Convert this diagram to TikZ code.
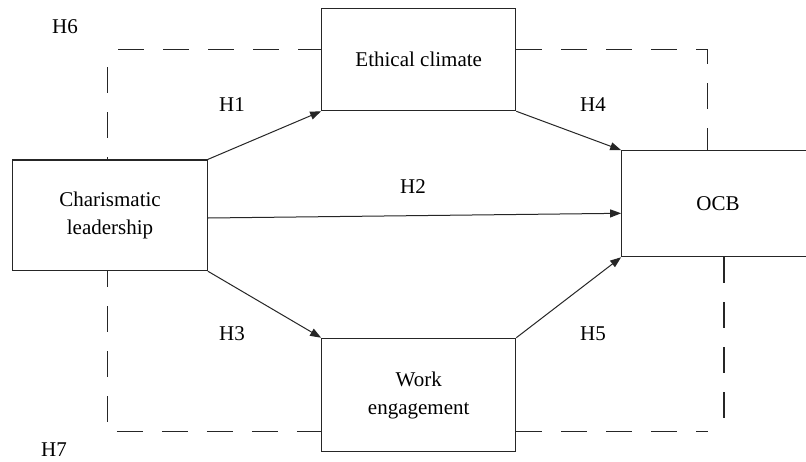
\documentclass[tikz,border=0pt]{standalone}
\usepackage{fontspec}
\setmainfont{Liberation Serif}
\usetikzlibrary{arrows.meta}
\begin{document}
\begin{tikzpicture}[x=1pt,y=-1pt,
  box/.style={draw=black!85, line width=1.1pt, inner sep=0pt, align=center, font=\fontsize{21}{28}\selectfont},
  conn/.style={draw=black!85, line width=1pt, -{Triangle[length=11pt,width=8pt]}},
  dline/.style={draw=black!85, line width=1.1pt, dash pattern=on 26pt off 19pt},
  lab/.style={font=\fontsize{21}{25}\selectfont, inner sep=0pt}]
\useasboundingbox (0,0) rectangle (806,461);
\fill[white] (0,0) rectangle (806,461);
% boxes
\node[box, minimum width=194pt, minimum height=102.4pt] (ec) at (418.7,59.5) {Ethical climate};
\node[box, minimum width=194.6pt, minimum height=110.7pt] (cl) at (110,215.3) {Charismatic\\leadership};
\node[box, minimum width=192.6pt, minimum height=106pt] (ocb) at (718,203.7) {OCB};
\node[box, minimum width=194pt, minimum height=113.4pt] (we) at (418.7,395) {Work\\engagement};
% dashed frame
\coordinate (tl) at (107.3,49.3);
\coordinate (tr) at (707.5,49.3);
\coordinate (bl) at (107.3,431.7);
\coordinate (br) at (708,431.7);
\coordinate (rb) at (724,422.7);
\draw[dline, dash phase=27pt] (tl) -- (tl |- cl.north);
\draw[dline, dash phase=34pt] (tl) -- (tl -| ec.west);
\draw[dline] (tr -| ec.east) -- (tr) -- (tr |- ocb.north);
\draw[dline, dash phase=10pt] (cl.south -| bl) -- (bl) -- (bl -| we.west);
\draw[dline] (br -| we.east) -- (br);
\draw[dline] (rb |- ocb.south) -- (rb);
% arrows
\draw[conn] (cl.north east) -- (ec.south west);
\draw[conn] (ec.south east) -- (ocb.north west);
\draw[conn] ([yshift=-2.7pt]cl.east) -- ([yshift=-9.6pt]ocb.west);
\draw[conn] (cl.south east) -- (we.north west);
\draw[conn] (we.north east) -- (ocb.south west);
% labels
\node[lab] (h6) at (65,27) {H6};
\node[lab] (h7) at (54,450) {H7};
\node[lab] (h1) at (232,105) {H1};
\node[lab] (h4) at (593,105) {H4};
\node[lab] (h2) at (413,187) {H2};
\node[lab] (h3) at (232,334) {H3};
\node[lab] (h5) at (593,334) {H5};
\end{tikzpicture}
\end{document}
